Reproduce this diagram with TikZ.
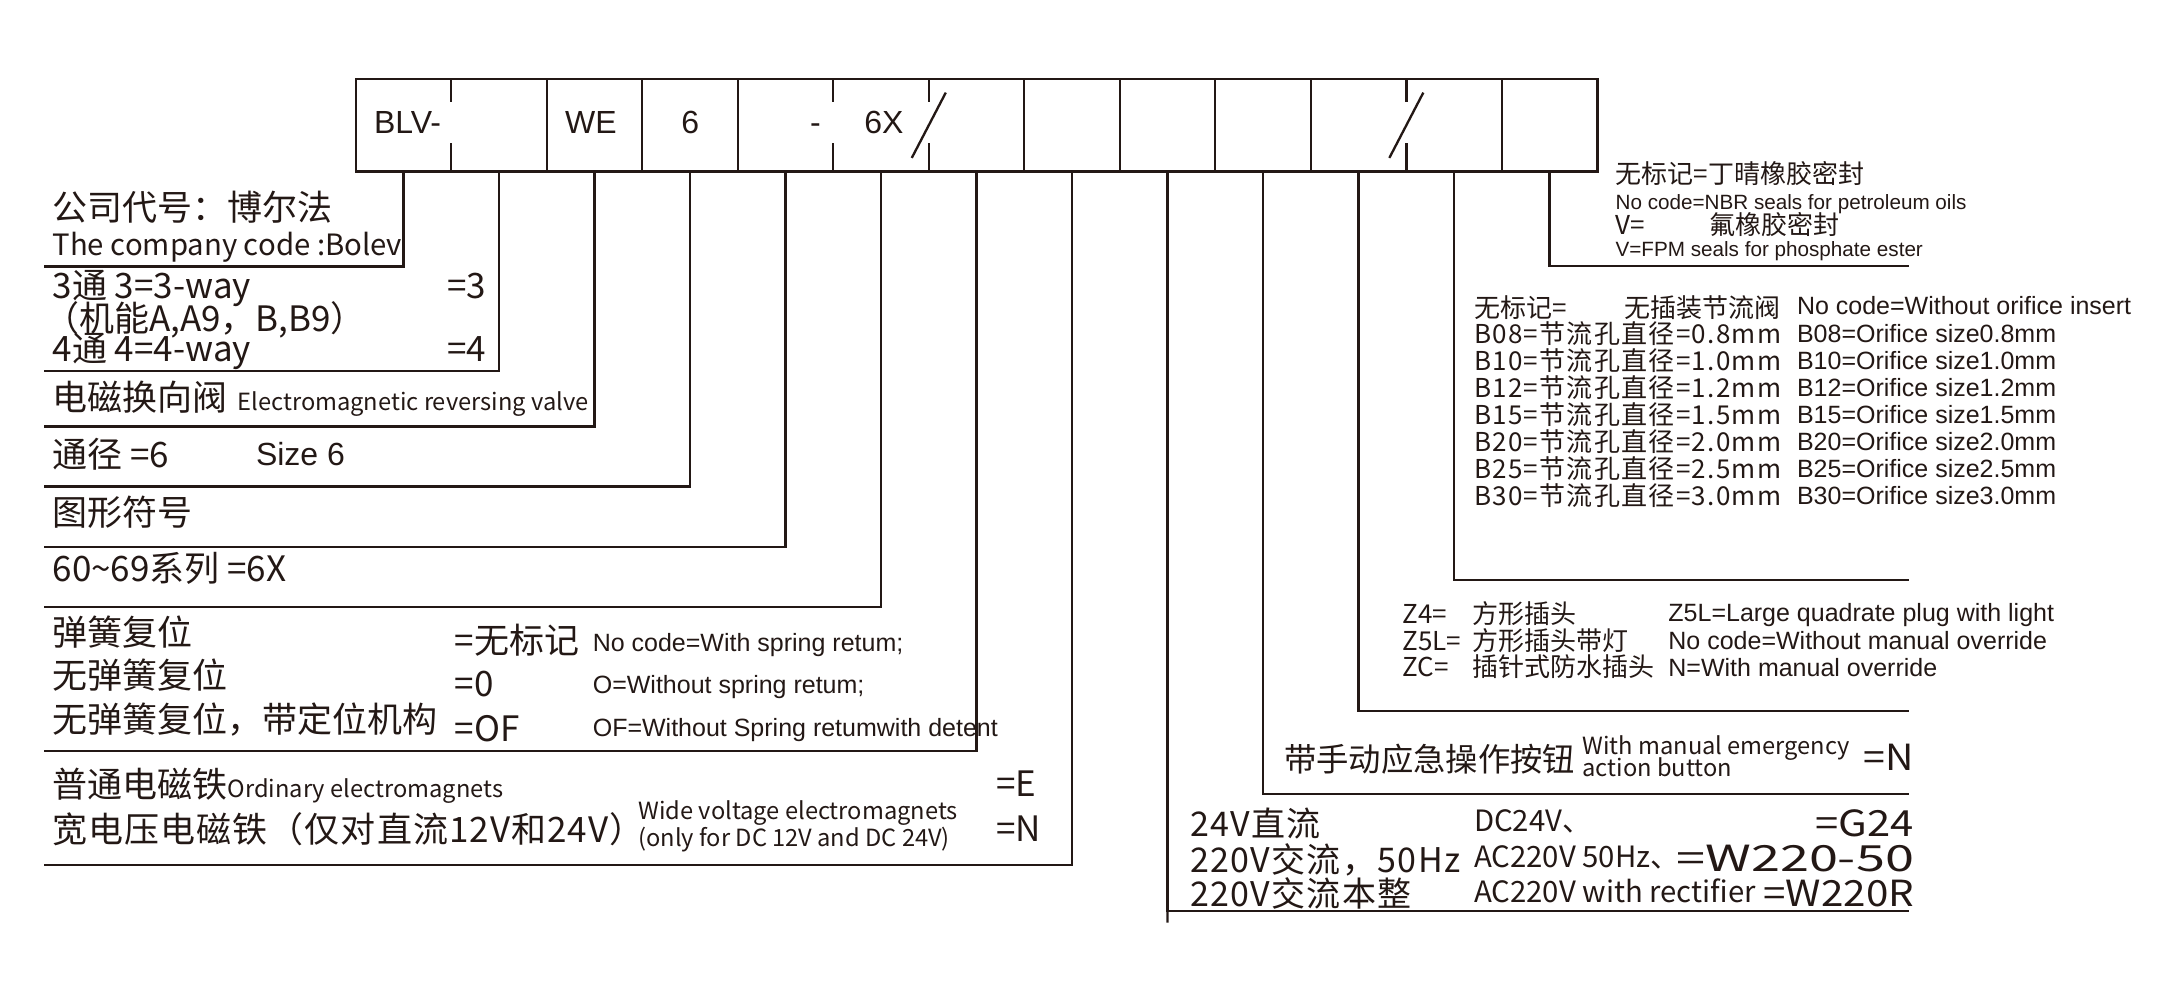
\documentclass[tikz,border=0pt]{standalone}
\usepackage{fontspec}
\setmainfont{Liberation Sans}
\newfontfamily\cjk{Noto Sans CJK SC}
\newfontfamily\ari{Liberation Sans}
\definecolor{ink}{RGB}{35,24,21}
\newcommand\zhA{\cjk\fontsize{10.5pt}{12pt}\selectfont}
\newcommand\zhB{\cjk\fontsize{7.8pt}{9pt}\selectfont}
\newcommand\zhC{\cjk\fontsize{9.7pt}{11pt}\selectfont}
\newcommand\zhD{\cjk\fontsize{10.2pt}{12pt}\selectfont}
\newcommand\zhE{\cjk\fontsize{10.8pt}{12pt}\selectfont}
\newcommand\arS{\ari\fontsize{6.2pt}{7pt}\selectfont}
\newcommand\arM{\ari\fontsize{7.5pt}{9pt}\selectfont}
\newcommand\arL{\ari\fontsize{9.6pt}{11pt}\selectfont}
\newcommand\enA{\cjk\fontsize{8.8pt}{10pt}\selectfont}
\newcommand\enB{\cjk\fontsize{7.1pt}{8pt}\selectfont}
\newcommand\enC{\cjk\fontsize{8.8pt}{10pt}\selectfont}
\newcommand\spc[1]{\addfontfeature{LetterSpace=#1}}
\begin{document}
\begin{tikzpicture}[x=0.3pt,y=-0.3pt,line width=0.7pt,draw=ink,
  every node/.style={inner sep=0pt,outer sep=0pt,text=ink},
  cell/.style={minimum width=28.653pt,minimum height=27.75pt},
  tl/.style={anchor=base west},
  tr/.style={anchor=base east},
  tc/.style={anchor=base}]
\useasboundingbox (0,0) rectangle (2161,1006);
% code cells
\foreach \i in {1,...,13} {\node[cell] (c\i) at ({355.7+95.51*(\i-0.5)},125.25) {};}
\draw (c1.north west) rectangle (c13.south east);
\foreach \i in {3,4,5,8,9,10,11,13} {\draw (c\i.north west) -- (c\i.south west);}
\foreach \i in {2,6,7,12} {\draw (c\i.north west) -- ([yshift=-6.9pt]c\i.north west)
   (c\i.south west) -- ([yshift=8.55pt]c\i.south west);}
\foreach \i in {7,12} {\draw ([xshift=5.1pt,yshift=9.8pt]c\i.west) -- ([xshift=-5.1pt,yshift=-9.8pt]c\i.west);}
\node[tc,font=\arL] (t1) at (407.5,133.3) {BLV-};
\node[tc,font=\arL] (t3) at (591,133.3) {WE};
\node[tc,font=\arL] (t4) at (690.2,133.3) {6};
\node[tc,font=\arL] (t5) at (815.5,133.3) {-};
\node[tc,font=\arL] (t6) at (884,133.3) {6X};
% bracket ends
\coordinate (e1) at (43.5,266.5);
\coordinate (e2) at (43.5,371);
\coordinate (e3) at (43.5,426.5);
\coordinate (e4) at (43.5,486.5);
\coordinate (e5) at (43.5,547);
\coordinate (e6) at (43.5,607);
\coordinate (e7) at (43.5,751);
\coordinate (e8) at (43.5,865);
\coordinate (e9) at (1909,910.7);
\coordinate (f9) at (1167.45,922.7);
\coordinate (e10) at (1909,794.3);
\coordinate (e11) at (1909,711);
\coordinate (e12) at (1909,580);
\coordinate (e13) at (1909,266);
\foreach \i in {1,...,13} {\draw (c\i.south) |- (e\i);}
\draw (c9.south) -- (f9);
% left texts
\node[tl,font=\zhA] (a1) at (52.6,220) {公司代号：博尔法};
\node[tl,font=\enA] (a2) at (52.6,255) {The company code :Bolev};
\node[tl,font=\zhA] (b1) at (52.6,298) {3通 3=3-way};
\node[tl,font=\zhA] (b1v) at (447,298) {=3};
\node[tl,font=\zhA] (b2) at (44,331) {（机能A,A9，B,B9）};
\node[tl,font=\zhA] (b3) at (52.6,361.7) {4通 4=4-way};
\node[tl,font=\zhA] (b3v) at (447,361.7) {=4};
\node[tl,font=\zhA] (d1) at (52.6,410) {电磁换向阀\hspace{3pt}{\enB Electromagnetic reversing valve}};
\node[tl,font=\zhA] (g1) at (52.6,467) {通径 =6};
\node[tl,font=\arL] (g2) at (256,465) {Size 6};
\node[tl,font=\zhA] (h1) at (52.6,525) {图形符号};
\node[tl,font=\zhA] (s1) at (52.6,581.7) {60\textasciitilde69系列 =6X};
\node[tl,font=\zhA] (k1) at (52.6,645) {弹簧复位};
\node[tl,font=\zhA] (k1v) at (454.6,653) {=无标记};
\node[tl,font=\arM] (k1e) at (592.8,651.7) {No code=With spring retum;};
\node[tl,font=\zhA] (k2) at (52.6,688) {无弹簧复位};
\node[tl,font=\zhA] (k2v) at (454.6,696) {=0};
\node[tl,font=\arM] (k2e) at (592.8,693) {O=Without spring retum;};
\node[tl,font=\zhA] (k3) at (52.6,732) {无弹簧复位，带定位机构};
\node[tl,font=\zhA] (k3v) at (454.6,741) {=OF};
\node[tl,font=\arM] (k3e) at (592.8,736) {OF=Without Spring retumwith detent};
\node[tl,font=\zhA] (m1) at (52.6,797) {普通电磁铁{\enB Ordinary electromagnets}};
\node[tl,font=\zhA] (m1v) at (996,796) {=E};
\node[tl,font=\zhA] (m2) at (52.6,842) {\spc{3}宽电压电磁铁（仅对直流12V和24V）};
\node[tl,font=\enB] (m2e) at (638.4,819.3) {Wide voltage electromagnets};
\node[tl,font=\enB] (m2f) at (638.4,846.7) {(only for DC 12V and DC 24V)};
\node[tl,font=\zhA] (m2v) at (996,841.7) {=N};
% right texts
\node[tl,font=\zhB] (r1) at (1615.6,183) {无标记=丁晴橡胶密封};
\node[tl,font=\arS] (r2) at (1615.6,209) {No code=NBR seals for petroleum oils};
\node[tl,font=\zhB] (r3) at (1615.6,234.6) {V=};
\node[tl,font=\zhB] (r3b) at (1709,234.6) {氟橡胶密封};
\node[tl,font=\arS] (r4) at (1615.6,256.3) {V=FPM seals for phosphate ester};
\node[tl,font=\zhB] (o0) at (1474,317) {无标记=};
\node[tl,font=\zhB] (o0b) at (1624.4,317) {无插装节流阀};
\node[tl,font=\arM] (o0e) at (1797,314) {No code=Without orifice insert};
\foreach \c/\d [count=\k from 0] in {08/0.8,10/1.0,12/1.2,15/1.5,20/2.0,25/2.5,30/3.0} {
  \node[tl,font=\zhB] (o\c) at (1474,343+27.1*\k) {\spc{5}B\c=节流孔直径=\d mm};
  \node[tl,font=\arM] (o\c e) at (1797,342+27.1*\k) {B\c=Orifice size\d mm};
}
\node[tl,font=\zhB] (z1) at (1402.5,623) {Z4=};
\node[tl,font=\zhB] (z1b) at (1472,623) {方形插头};
\node[tl,font=\arM] (z1e) at (1668.4,621.7) {Z5L=Large quadrate plug with light};
\node[tl,font=\zhB] (z2) at (1402.5,650) {Z5L=};
\node[tl,font=\zhB] (z2b) at (1472,650) {方形插头带灯};
\node[tl,font=\arM] (z2e) at (1668.4,649.3) {No code=Without manual override};
\node[tl,font=\zhB] (z3) at (1402.5,676.7) {ZC=};
\node[tl,font=\zhB] (z3b) at (1472,676.7) {插针式防水插头};
\node[tl,font=\arM] (z3e) at (1668.4,676) {N=With manual override};
\node[tl,font=\zhC] (q1) at (1284,771) {带手动应急操作按钮};
\node[tl,font=\enB] (q1e) at (1582.5,754) {With manual emergency};
\node[tl,font=\enB] (q1f) at (1582.5,776.7) {action button};
\node[tr,font=\zhE] (q1v) at (1914,770) {\scalebox{1.09}[1]{=N}};
\node[tl,font=\zhD] (v1) at (1190,836) {\spc{4}24V直流};
\node[tl,font=\enC] (v1e) at (1474,831.7) {DC24V、};
\node[tr,font=\zhE] (v1v) at (1914,836.7) {\scalebox{1.16}[1]{=G24}};
\node[tl,font=\zhD] (v2) at (1190,872) {\spc{4}220V交流，50Hz};
\node[tl,font=\enC] (v2e) at (1474,867.3) {AC220V 50Hz、};
\node[tr,font=\zhE] (v2v) at (1914,871.7) {\scalebox{1.45}[1]{=W220-50}};
\node[tl,font=\zhD] (v3) at (1190,906) {\spc{4}220V交流本整};
\node[tl,font=\enC] (v3e) at (1474,902.7) {AC220V with rectifier};
\node[tr,font=\zhE] (v3v) at (1914,906.7) {\scalebox{1.12}[1]{=W220R}};
\end{tikzpicture}
\end{document}
